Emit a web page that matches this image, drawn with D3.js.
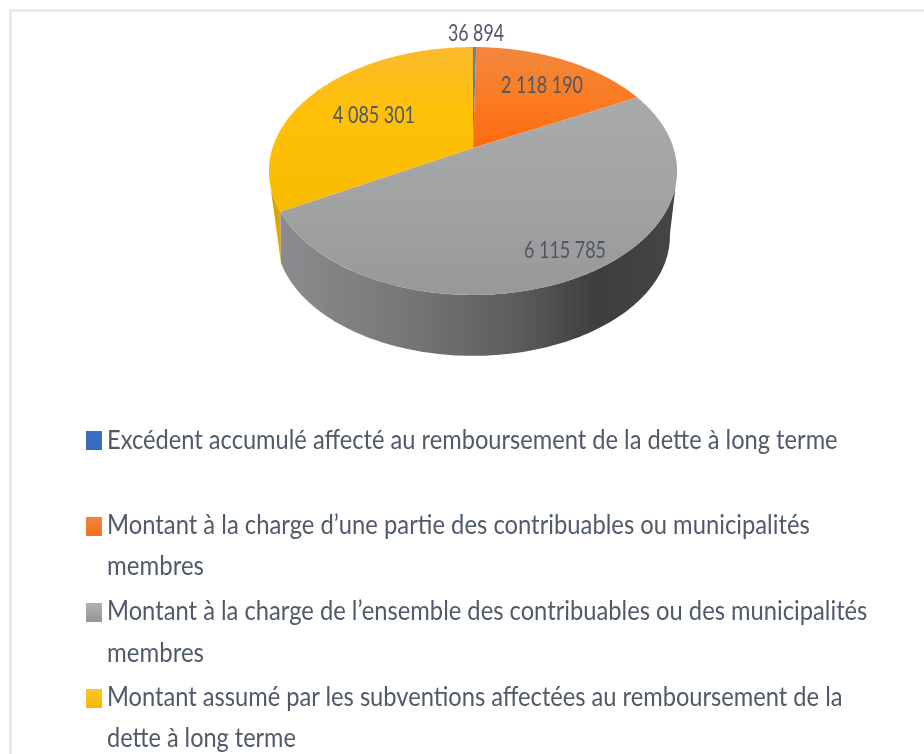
<!DOCTYPE html>
<html>
<head>
<meta charset="utf-8">
<script src="https://cdn.jsdelivr.net/npm/d3@7"></script>
<style>
html,body{margin:0;padding:0;background:#fff;}
svg{display:block;filter:blur(0.7px);}
text{font-family:Lato,"Open Sans",sans-serif;}
</style>
</head>
<body>
<svg id="chart" width="924" height="754"></svg>
<script>
var categories=["Excédent accumulé affecté au remboursement de la dette à long terme",
	"Montant à la charge d’une partie des contribuables ou municipalités membres",
	"Montant à la charge de l’ensemble des contribuables ou des municipalités membres",
	"Montant assumé par les subventions affectées au remboursement de la dette à long terme"];
var values=[36894,2118190,6115785,4085301];
var valueLabels=["36 894","2 118 190","6 115 785","4 085 301"];
var legendLines=[
	["Excédent accumulé affecté au remboursement de la dette à long terme"],
	["Montant à la charge d’une partie des contribuables ou municipalités","membres"],
	["Montant à la charge de l’ensemble des contribuables ou des municipalités","membres"],
	["Montant assumé par les subventions affectées au remboursement de la","dette à long terme"]];
var colors=["#4472c4","#ed7d31","#a5a5a5","#ffc000"];

var svg=d3.select("#chart");
var defs=svg.append("defs");

// page frame
svg.append("path").attr("d","M10.5,754V10.5H924").attr("fill","none").attr("stroke","#e6e6e6").attr("stroke-width",2.5);

// perspective set up, disc (u,v) goes to the screen
var cx=473,cy=148,rx=200.5,ry=119.7,k=0.1855;
var project=function(a,scale,dy) {
	var u=Math.sin(a)*scale,v=-Math.cos(a);
	var w=1-k*v;
	return [cx+rx*u/w,cy+dy+ry*scale*v/w];
};
var depth=66,bottomScale=0.965;
var line=d3.line();
var deg=Math.PI/180;

var pie=d3.pie().sort(null).value(d=>d);
var arcs=pie(values);

var sampleAngles=function(a0,a1) {
	var n=Math.max(2,Math.ceil((a1-a0)*60));
	return d3.range(n+1).map(i=>a0+(a1-a0)*i/n);
};

var addGrad=function(id,stops,vertical) {
	var g=defs.append("linearGradient").attr("id",id)
		.attr("x1",0).attr("y1",0).attr("x2",vertical?0:1).attr("y2",vertical?1:0);
	stops.forEach(s=>g.append("stop").attr("offset",s[0]).attr("stop-color",s[1]));
};
addGrad("top0",[[0,"#6a7fa8"],[1,"#4472c4"]],true);
addGrad("top1",[[0,"#f2873f"],[0.5,"#f97c22"],[1,"#ff6a0e"]],true);
addGrad("top2",[[0,"#a9aaab"],[0.5,"#a3a3a3"],[1,"#989898"]],true);
addGrad("top3",[[0,"#fbbb2e"],[0.4,"#ffc107"],[1,"#f9bb00"]],true);
addGrad("swatch0",[[0,"#3f6fc8"],[1,"#3a68be"]],true);
addGrad("swatch1",[[0,"#ee8540"],[1,"#f46f1c"]],true);
addGrad("swatch2",[[0,"#b0b0b0"],[1,"#959595"]],true);
addGrad("swatch3",[[0,"#fdc52c"],[1,"#f5b800"]],true);
addGrad("wall2",[[0,"#8c8c90"],[0.3,"#787878"],[0.6,"#5c5c5c"],[0.8,"#3e3e3e"],[1,"#454545"]],false);
addGrad("wall3",[[0,"#d09c00"],[1,"#e6ad00"]],false);

// wall, rim and lower disc are cut at different angles so the outline
// leaves the rim on a tangent
var wallPath=function(t0,t1,b0,b1) {
	var top=sampleAngles(t0,t1).map(a=>project(a,1,0));
	var bottom=sampleAngles(b0,b1).reverse().map(a=>project(a,bottomScale,depth));
	return line(top.concat(bottom))+"Z";
};
var splitAngle=arcs[2].endAngle;
var walls=[
	{i:3,t0:splitAngle,t1:253*deg,b0:splitAngle+6*deg,b1:splitAngle+6*deg},
	{i:2,t0:107*deg,t1:splitAngle,b0:100*deg,b1:splitAngle+6*deg}
];
svg.selectAll("path.wall").data(walls).enter().append("path")
	.attr("class","wall")
	.attr("d",d=>wallPath(d.t0,d.t1,d.b0,d.b1))
	.attr("fill",d=>"url(#wall"+d.i+")");

// top of the pie
svg.selectAll("path.slice").data(arcs).enter().append("path")
	.attr("class","slice")
	.attr("d",d=>{
		var pts=sampleAngles(d.startAngle,d.endAngle).map(a=>project(a,1,0));
		return line([[cx,cy]].concat(pts))+"Z";
	})
	.attr("fill",(d,i)=>"url(#top"+i+")");

// text is squeezed sideways, reference font is narrower than Lato
var squeeze=function(sel,xOf,yOf,widthOf) {
	sel.each(function(d,i) {
		var sx=widthOf(d,i)/this.getComputedTextLength();
		d3.select(this).attr("transform","translate("+xOf(d,i)+","+yOf(d,i)+") scale("+sx+",1)");
	});
};

// value labels
var labelPos=[[448,41],[501,93],[524,258],[333,123]];
var labelWidth=[56,82,82,82];
var valueText=svg.selectAll("text.value").data(valueLabels).enter().append("text")
	.attr("class","value")
	.attr("font-size",23)
	.attr("fill","#4d5668")
	.text(d=>d);
squeeze(valueText,(d,i)=>labelPos[i][0],(d,i)=>labelPos[i][1],(d,i)=>labelWidth[i]);

// legend
var swatchY=[431,517,603,689];
var legendBase=[[449],[534,575],[620,662],[706,747]];
var legendWidth=[[731],[703,97],[761,97],[736,189]];
svg.selectAll("rect.swatch").data(colors).enter().append("rect")
	.attr("class","swatch")
	.attr("x",86).attr("y",(d,i)=>swatchY[i])
	.attr("width",16).attr("height",19)
	.attr("fill",(d,i)=>"url(#swatch"+i+")");
legendLines.forEach(function(lines,i) {
	var t=svg.selectAll("text.leg"+i).data(lines).enter().append("text")
		.attr("class","leg"+i)
		.attr("font-size",27)
		.attr("fill","#505a69")
		.text(d=>d);
	squeeze(t,()=>107,(d,j)=>legendBase[i][j],(d,j)=>legendWidth[i][j]);
});
</script>
</body>
</html>
